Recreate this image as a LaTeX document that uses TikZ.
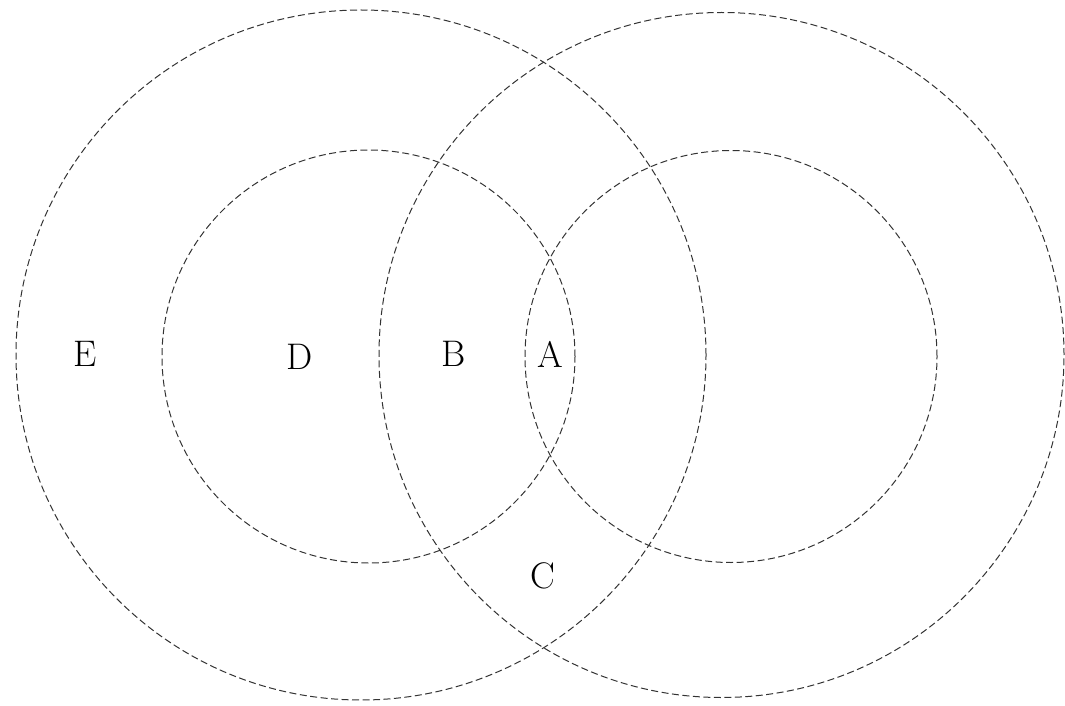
\documentclass[tikz,border=0pt]{standalone}
\begin{document}
\begin{tikzpicture}[x=1pt,y=-1pt,
  ring/.style={draw=black!80, line width=1pt, dash pattern=on 7pt off 3.5pt},
  lbl/.style={font=\fontsize{37}{40}\selectfont, inner sep=0pt}]
\useasboundingbox (0,0) rectangle (1065,706);
\coordinate (cL) at (361,355);
\coordinate (cR) at (721.5,355);
\coordinate (sL) at (368.5,356.5);
\coordinate (sR) at (731,356.5);
\draw[ring] (cL) circle[radius=345pt];
\draw[ring] (cR) circle[radius=342.5pt];
\draw[ring] (sL) circle[radius=206.5pt];
\draw[ring] (sR) circle[radius=206pt];
\node[lbl] (E) at (85,354) {E};
\node[lbl] (D) at (300,357) {D};
\node[lbl] (B) at (454,354) {B};
\node[lbl] (A) at (550,354) {A};
\node[lbl] (C) at (543,576) {C};
\end{tikzpicture}
\end{document}
